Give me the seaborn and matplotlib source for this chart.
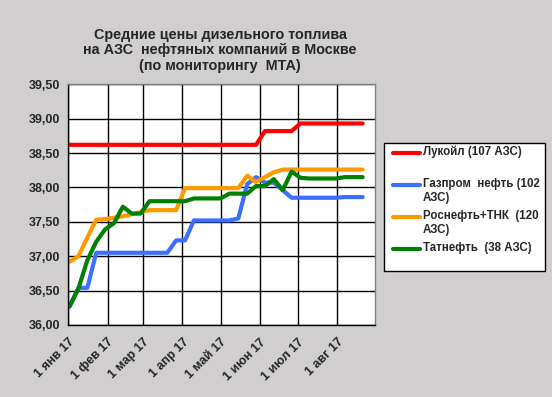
import matplotlib
matplotlib.use("Agg")
import matplotlib.pyplot as plt
from matplotlib.lines import Line2D
from matplotlib.patches import Rectangle
from matplotlib.ticker import FuncFormatter
import numpy as np
import pandas as pd
import seaborn as sns

# weekly monitoring points (Mondays)
dates = pd.date_range("2017-01-02", periods=34, freq="7D")

lukoil = [38.62] * 22 + [38.82] * 4 + [38.93] * 8
gazprom = [
    36.27, 36.54, 36.54, 37.05, 37.05, 37.05, 37.05, 37.05, 37.05, 37.05,
    37.05, 37.05, 37.23, 37.23, 37.52, 37.52, 37.52, 37.52, 37.52, 37.55,
    38.05, 38.15, 38.07, 38.07, 37.96, 37.85, 37.85, 37.85, 37.85, 37.85,
    37.85, 37.86, 37.86, 37.86,
]
rosneft = [
    36.92, 37.00, 37.27, 37.53, 37.54, 37.56, 37.58, 37.61, 37.64, 37.67,
    37.67, 37.67, 37.67, 37.99, 37.99, 37.99, 37.99, 37.99, 37.99, 37.99,
    38.17, 38.08, 38.15, 38.22, 38.26, 38.26, 38.26, 38.26, 38.26, 38.26,
    38.26, 38.26, 38.26, 38.26,
]
tatneft = [
    36.27, 36.53, 36.94, 37.21, 37.39, 37.48, 37.72, 37.62, 37.62, 37.80,
    37.80, 37.80, 37.80, 37.80, 37.84, 37.84, 37.84, 37.84, 37.91, 37.91,
    37.91, 38.02, 38.02, 38.12, 37.96, 38.23, 38.14, 38.13, 38.13, 38.13,
    38.13, 38.15, 38.15, 38.15,
]

companies = ["Лукойл", "Газпром нефть", "Роснефть+ТНК", "Татнефть"]
legend_labels = [
    "Лукойл (107 АЗС)",
    "Газпром  нефть (102\nАЗС)",
    "Роснефть+ТНК  (120\nАЗС)",
    "Татнефть  (38 АЗС)",
]
colors = ["#ff0000", "#3c6eff", "#ff9900", "#008000"]

month_ticks = pd.date_range("2017-01-01", "2017-08-01", freq="MS")
month_labels = ["1 янв 17", "1 фев 17", "1 мар 17", "1 апр 17",
                "1 май 17", "1 июн 17", "1 июл 17", "1 авг 17"]

title = "Средние цены дизельного топлива\nна АЗС  нефтяных компаний в Москве\n(по мониторингу  МТА)"

df = pd.DataFrame({
    "date": np.tile(dates, 4),
    "price": lukoil + gazprom + rosneft + tatneft,
    "company": np.repeat(companies, len(dates)),
})

sns.set_style("white")
plt.rcParams["font.family"] = ["Liberation Sans", "DejaVu Sans"]
plt.rcParams["font.weight"] = "bold"

bg = "#d0cece"
fig = plt.figure(figsize=(5.52, 3.97), dpi=100, facecolor=bg)
ax = fig.add_axes([0.1237, 0.1814, 0.5563, 0.6063])
ax.set_facecolor("white")

sns.lineplot(data=df, x="date", y="price", hue="company", hue_order=companies,
             palette=colors, linewidth=3, legend=False, ax=ax)

ax.set_xlim(pd.Timestamp("2017-01-01"), pd.Timestamp("2017-08-31"))
ax.set_ylim(36.0, 39.5)
ax.set_yticks(np.arange(36.0, 39.51, 0.5))
ax.yaxis.set_major_formatter(FuncFormatter(lambda v, _: f"{v:.2f}".replace(".", ",")))
ax.set_xticks(month_ticks)
ax.set_xticklabels(month_labels, rotation=45, ha="right", rotation_mode="anchor")
ax.grid(True, color="black", linewidth=1)
ax.set_axisbelow(True)
ax.set_xlabel("")
ax.set_ylabel("")
ax.tick_params(axis="both", direction="out", length=4, width=1, color="black",
               labelsize=9, pad=2)
ax.tick_params(axis="x", pad=4)
for lbl in ax.get_xticklabels() + ax.get_yticklabels():
    lbl.set_fontweight("bold")
for side in ["left", "bottom"]:
    ax.spines[side].set_color("black")
    ax.spines[side].set_linewidth(1)
for side in ["top", "right"]:
    ax.spines[side].set_color("#808080")
    ax.spines[side].set_linewidth(1)

fig.text(0.3986, 0.873, title, ha="center", va="center", fontsize=10.4,
         fontweight="bold", linespacing=1.15)

# legend box drawn like the Excel one
W, H = 552, 397
fig.patches.append(Rectangle((384 / W, 1 - 271 / H), 161 / W, 128 / H,
                             transform=fig.transFigure, facecolor="white",
                             edgecolor="black", linewidth=1))
for label, color, y in zip(legend_labels, colors, [153, 185, 217, 249]):
    fig.lines.append(Line2D([393 / W, 420 / W], [1 - y / H, 1 - y / H],
                            transform=fig.transFigure, color=color, linewidth=3))
    fig.text(423 / W, 1 - (y - 7) / H, label, ha="left", va="top",
             fontsize=8.3, fontweight="bold", linespacing=1.25)

fig.savefig("out.png", dpi=100, facecolor=bg)
